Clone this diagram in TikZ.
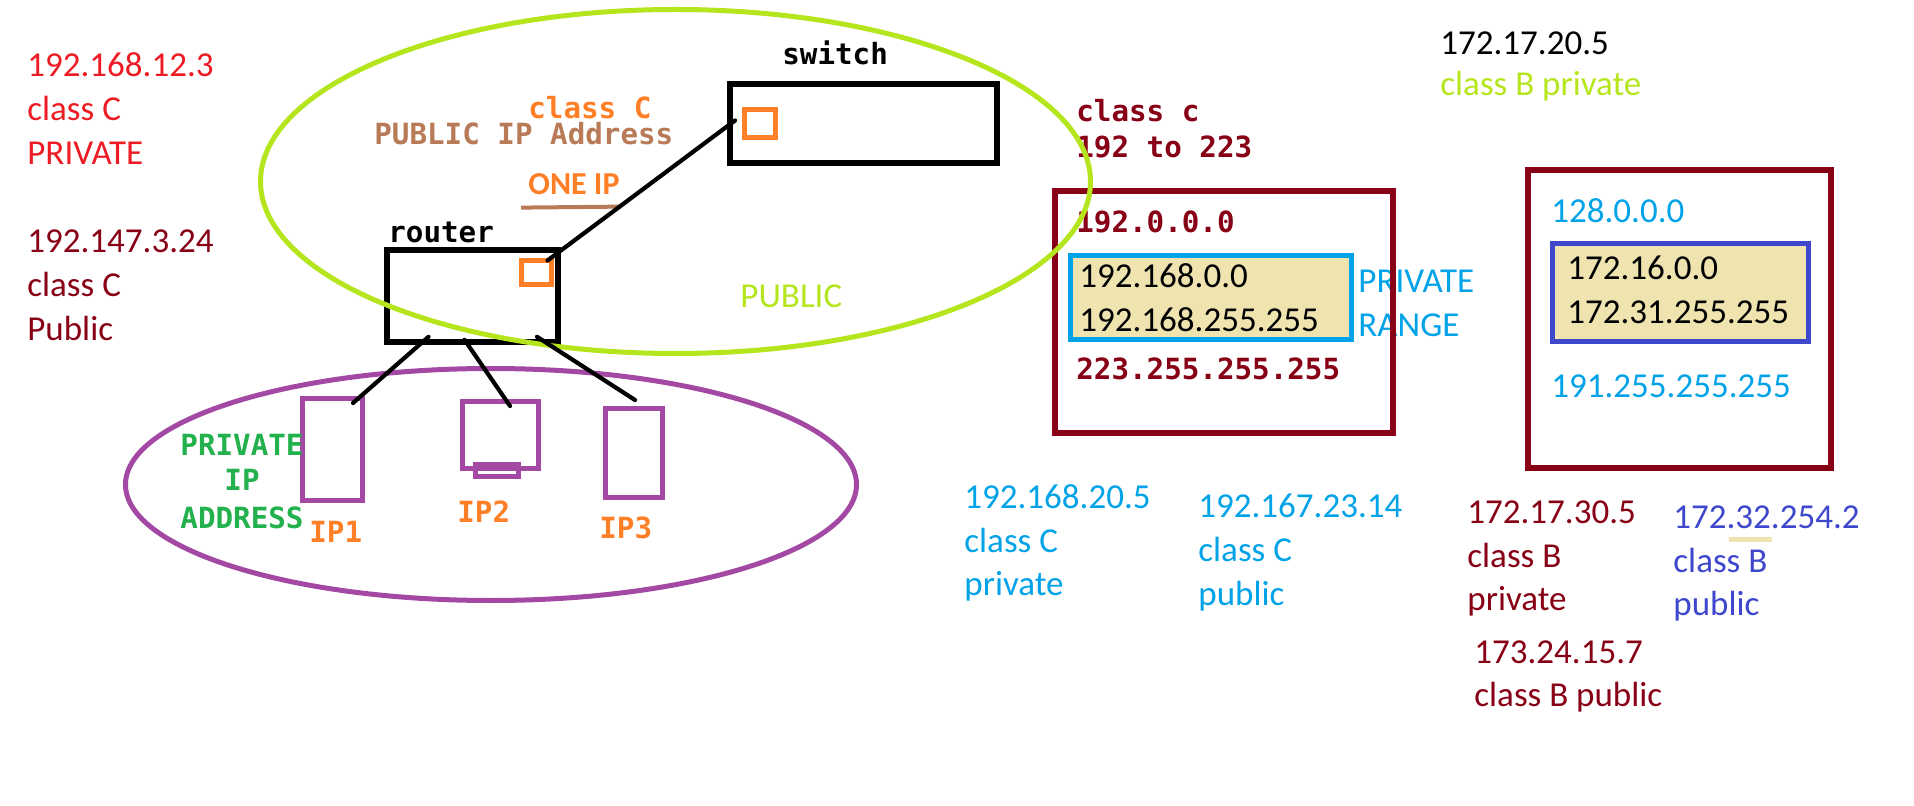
\documentclass[tikz,border=0pt]{standalone}
\usepackage{fontspec}
\setmainfont{Carlito}
\newfontfamily\monof{DejaVu Sans Mono}
\usetikzlibrary{fit,calc}
\definecolor{cred}{HTML}{ED1C24}
\definecolor{cmaroon}{HTML}{880015}
\definecolor{corange}{HTML}{FF7F27}
\definecolor{cbrown}{HTML}{B97A57}
\definecolor{clime}{HTML}{B5E61D}
\definecolor{cpurple}{HTML}{A349A4}
\definecolor{cgreen}{HTML}{22B14C}
\definecolor{cblue}{HTML}{00A2E8}
\definecolor{cindigo}{HTML}{3F48CC}
\definecolor{cbeige}{HTML}{EFE4B0}
\tikzset{
  cal/.style={font=\fontsize{17.5}{22}\selectfont, inner sep=0pt, anchor=base west},
  calb/.style={font=\bfseries\fontsize{16}{20}\selectfont, inner sep=0pt, anchor=base west},
  mono/.style={font=\monof\bfseries\fontsize{14.6}{18}\selectfont, inner sep=0pt, anchor=base west},
  bx/.style={draw, line width=2.8pt, inner sep=0pt},
  port/.style={draw=corange, line width=2.5pt, inner sep=0pt},
  dev/.style={draw=cpurple, line width=2.5pt, inner sep=0pt},
  wire/.style={line width=2.1pt, line cap=round},
}
\begin{document}
\begin{tikzpicture}[x=0.5pt,y=-0.5pt]
\useasboundingbox (0,0) rectangle (1914,806);
\fill[white] (0,0) rectangle (1914,806);

% left notes
\node[cal,text=cred] (a1) at (27,77) {192.168.12.3};
\node[cal,text=cred] (a2) at (27,121) {class C};
\node[cal,text=cred] (a3) at (27,165) {PRIVATE};
\node[cal,text=cmaroon] (b1) at (27,253) {192.147.3.24};
\node[cal,text=cmaroon] (b2) at (27,297) {class C};
\node[cal,text=cmaroon] (b3) at (27,341) {Public};

% switch & router
\node[mono] (swlbl) at (782,65) {switch};
\node[bx, fit={(730,84) (997,163)}] (switch) {};
\node[port, fit={(744.5,109.5) (775.5,137.5)}] (swport) {};
\node[mono] (rlbl) at (388,243) {router};
\node[bx, fit={(387,250) (558,342)}] (router) {};
\node[port, fit={(521,261) (551,285)}] (rport) {};

\node[mono,text=corange] (clsC) at (528,119) {class C};
\node[mono,text=cbrown] (pubip) at (374,145) {PUBLIC IP Address};
\node[calb,text=corange] (oneip) at (528,195) {ONE IP};
\draw[cbrown, line width=2pt] (oneip.south west) ++(-7,12) coordinate (ul1) -- ++(100,-1) coordinate (ul2);
\node[cal,text=clime] (publbl) at (740,308) {PUBLIC};

% devices
\node[dev, fit={(302.5,398.5) (362.5,500.5)}] (ip1) {};
\node[dev, fit={(462.5,401.5) (538.5,468.5)}] (ip2) {};
\node[dev, fit={(475,464) (518,476)}] (ip2b) {};
\node[dev, fit={(605.5,408.5) (662.5,497.5)}] (ip3) {};
\node[mono,text=cgreen,anchor=base] (pv1) at (242,455) {PRIVATE};
\node[mono,text=cgreen,anchor=base] (pv2) at (242,490) {IP};
\node[mono,text=cgreen,anchor=base] (pv3) at (242,528) {ADDRESS};
\node[mono,text=corange] (ip1l) at (309,542) {IP1};
\node[mono,text=corange] (ip2l) at (457,522) {IP2};
\node[mono,text=corange] (ip3l) at (599,538) {IP3};

% right part
\node[cal] (c1) at (1440,55) {172.17.20.5};
\node[cal,text=clime] (c2) at (1440,96) {class B private};
\node[mono,text=cmaroon] (d1) at (1076,122) {class c};
\node[mono,text=cmaroon] (d2) at (1076,158) {192 to 223};

\node[draw=cblue, fill=cbeige, line width=2.5pt, inner sep=0pt, fit={(1070,256) (1351,340)}] (prv) {};
\node[draw=cindigo, fill=cbeige, line width=2.5pt, inner sep=0pt, fit={(1552,244) (1808,342)}] (prvb) {};

\node[mono,text=cmaroon] (e1) at (1076,233) {192.0.0.0};
\node[cal] (e2) at (1079,288) {192.168.0.0};
\node[cal] (e3) at (1079,332) {192.168.255.255};
\node[cal,text=cblue] (e4) at (1358,293) {PRIVATE};
\node[cal,text=cblue] (e5) at (1358,337) {RANGE};
\node[mono,text=cmaroon] (e6) at (1076,380) {223.255.255.255};

\node[cal,text=cblue] (f1) at (1551,223) {128.0.0.0};
\node[cal] (f2) at (1567,280) {172.16.0.0};
\node[cal] (f3) at (1567,324) {172.31.255.255};
\node[cal,text=cblue] (f4) at (1551,398) {191.255.255.255};

\node[bx, draw=cmaroon, fit={(1055,191) (1393,433)}] (rangeC) {};
\node[bx, draw=cmaroon, fit={(1528,170) (1831,468)}] (rangeB) {};

% bottom notes
\node[cal,text=cblue] (g1) at (964,508) {192.168.20.5};
\node[cal,text=cblue] (g2) at (964,552) {class C};
\node[cal,text=cblue] (g3) at (964,595) {private};
\node[cal,text=cblue] (h1) at (1198,517) {192.167.23.14};
\node[cal,text=cblue] (h2) at (1198,561) {class C};
\node[cal,text=cblue] (h3) at (1198,605) {public};
\node[cal,text=cmaroon] (i1) at (1467,523) {172.17.30.5};
\node[cal,text=cmaroon] (i2) at (1467,567) {class B};
\node[cal,text=cmaroon] (i3) at (1467,610) {private};
\fill[cbeige] (1729,537) rectangle (1772,542);
\node[cal,text=cindigo] (j1) at (1673,528) {172.32.254.2};
\node[cal,text=cindigo] (j2) at (1673,572) {class B};
\node[cal,text=cindigo] (j3) at (1673,615) {public};
\node[cal,text=cmaroon] (k1) at (1474,663) {173.24.15.7};
\node[cal,text=cmaroon] (k2) at (1474,706) {class B public};

% ellipses
\draw[clime, line width=2.5pt] (675.5,181.5) ellipse [x radius=207.5pt, y radius=86pt];
\draw[cpurple, line width=2.5pt] (491,484.5) ellipse [x radius=182.75pt, y radius=58pt];

% connectors
\draw[wire] ($(swport.west)+(-7,-3)$) -- ($(rport.north east)+(-6,2)$);
\draw[wire] ($(router.south)+(-44,-8)$) -- ($(ip1.north east)+(-12,7)$);
\draw[wire] ($(router.south)+(-8,-5)$) -- ($(ip2.north)+(9.5,7)$);
\draw[wire] ($(router.south)+(64.5,-8)$) -- ($(ip3.north)+(1,-6)$);
\end{tikzpicture}
\end{document}
